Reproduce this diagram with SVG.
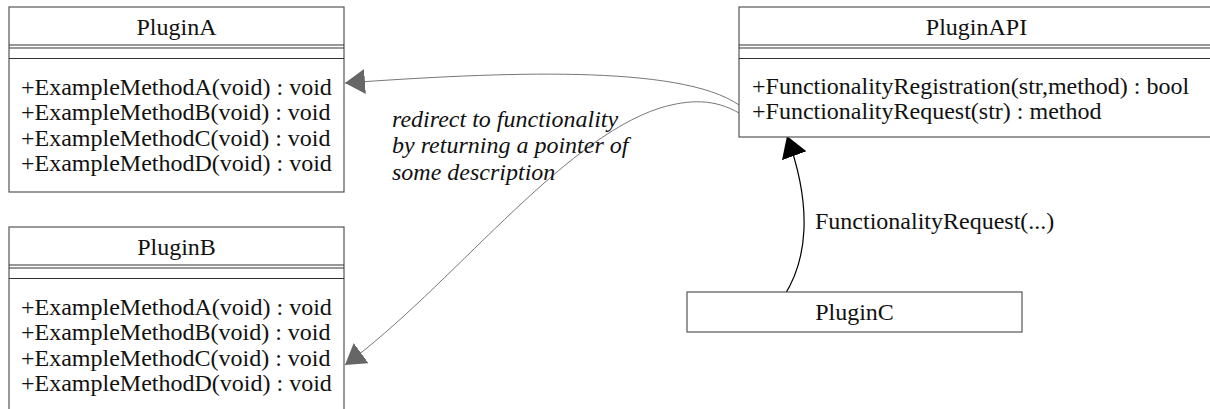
<svg xmlns="http://www.w3.org/2000/svg" width="1210" height="409" viewBox="0 0 1210 409">
<style>
  .box { fill: #ffffff; stroke: #555555; stroke-width: 1.2; }
  .sep { stroke: #333333; stroke-width: 1.2; fill: none; }
  .t { font-family: "Liberation Serif", "Times New Roman", serif; font-size: 24px; fill: #111111; }
  .c { text-anchor: middle; }
  .it { font-style: italic; }
  .gray { fill: none; stroke: #777777; stroke-width: 1; }
  .blk { fill: none; stroke: #000000; stroke-width: 1.2; }
</style>
<defs>
  <marker id="ag" markerUnits="userSpaceOnUse" markerWidth="22" markerHeight="26" refX="20" refY="12.5" orient="auto">
    <path d="M0,0 L20,12.5 L0,25 z" fill="#666666"/>
  </marker>
  <marker id="ab" markerUnits="userSpaceOnUse" markerWidth="24" markerHeight="28" refX="21" refY="13" orient="auto">
    <path d="M0,0 L21,13 L0,26 z" fill="#000000"/>
  </marker>
</defs>
<rect width="1210" height="409" fill="#ffffff"/>

<g id="connectors">
  <path class="gray" d="M739,105 C 680,64 500,72 345,83" marker-end="url(#ag)"/>
  <path class="gray" d="M739,113 C 715,99 690,99 660,108 C 560,140 450,288 345,365" marker-end="url(#ag)"/>
  <path class="blk" d="M784,296 C 806,262 814,210 787,136" marker-end="url(#ab)"/>
  <text class="t it" x="392" y="127">redirect to functionality</text>
  <text class="t it" x="392" y="153">by returning a pointer of</text>
  <text class="t it" x="392" y="180">some description</text>
  <text class="t" x="815" y="229">FunctionalityRequest(...)</text>
</g>

<g id="PluginA">
  <rect class="box" x="9" y="7" width="335" height="185"/>
  <line class="sep" x1="9" y1="45" x2="344" y2="45"/>
  <line class="sep" x1="9" y1="48" x2="344" y2="48"/>
  <line class="sep" x1="9" y1="58.5" x2="344" y2="58.5"/>
  <text class="t c" x="176.5" y="35">PluginA</text>
  <text class="t" x="21" y="94.5">+ExampleMethodA(void) : void</text>
  <text class="t" x="21" y="120">+ExampleMethodB(void) : void</text>
  <text class="t" x="21" y="145.5">+ExampleMethodC(void) : void</text>
  <text class="t" x="21" y="171">+ExampleMethodD(void) : void</text>
</g>

<g id="PluginB">
  <rect class="box" x="9" y="227" width="335" height="200"/>
  <line class="sep" x1="9" y1="265" x2="344" y2="265"/>
  <line class="sep" x1="9" y1="268" x2="344" y2="268"/>
  <line class="sep" x1="9" y1="278.5" x2="344" y2="278.5"/>
  <text class="t c" x="176.5" y="255">PluginB</text>
  <text class="t" x="21" y="314.5">+ExampleMethodA(void) : void</text>
  <text class="t" x="21" y="340">+ExampleMethodB(void) : void</text>
  <text class="t" x="21" y="365.5">+ExampleMethodC(void) : void</text>
  <text class="t" x="21" y="391">+ExampleMethodD(void) : void</text>
</g>

<g id="PluginAPI">
  <rect class="box" x="739" y="7" width="475" height="130"/>
  <line class="sep" x1="739" y1="45" x2="1214" y2="45"/>
  <line class="sep" x1="739" y1="48" x2="1214" y2="48"/>
  <line class="sep" x1="739" y1="58.5" x2="1214" y2="58.5"/>
  <text class="t c" x="976.5" y="35">PluginAPI</text>
  <text class="t" x="752" y="93.5">+FunctionalityRegistration(str,method) : bool</text>
  <text class="t" x="752" y="119">+FunctionalityRequest(str) : method</text>
</g>

<g id="PluginC">
  <rect class="box" x="687" y="292" width="335" height="40"/>
  <text class="t c" x="854.5" y="320">PluginC</text>
</g>
</svg>
